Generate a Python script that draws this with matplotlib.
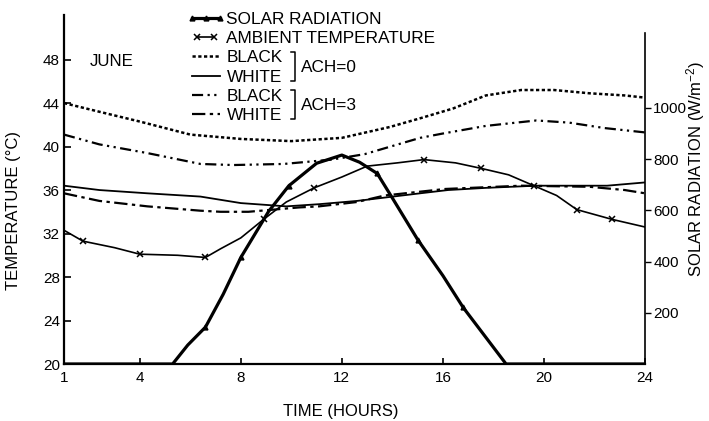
import matplotlib
matplotlib.use('Agg')
import matplotlib.pyplot as plt
from matplotlib.lines import Line2D
from matplotlib.legend_handler import HandlerLine2D

plt.rcParams['font.family'] = ['Liberation Sans', 'DejaVu Sans']
plt.rcParams['mathtext.fontset'] = 'custom'
plt.rcParams['mathtext.rm'] = 'Liberation Sans'
plt.rcParams['mathtext.default'] = 'regular'

# ---- data (June) ----
solar_hours = [1, 5.3, 5.9, 6.6, 7.3, 8.0, 9.1, 9.9, 11.0, 12.0, 12.7, 13.4, 14.0, 15.0, 16.0, 16.8, 17.5, 18.5, 24]
solar_rad = [0, 0, 74, 144, 272, 416, 596, 696, 784, 816, 788, 744, 648, 486, 345, 221, 130, 0, 0]
solar_marks = [3, 5, 7, 11, 13, 15]

amb_hours = [1, 1.75, 3, 4, 5.5, 6.6, 7.2, 8.0, 8.9, 9.8, 10.9, 12.0, 13.0, 14.2, 15.25,
             16.5, 17.5, 18.6, 19.6, 20.5, 21.3, 22.7, 24]
amb_temp = [32.3, 31.3, 30.7, 30.1, 30.0, 29.8, 30.6, 31.6, 33.3, 34.9, 36.2, 37.2, 38.2, 38.5, 38.8,
            38.5, 38.0, 37.4, 36.4, 35.5, 34.2, 33.3, 32.6]
amb_marks = [1, 3, 5, 8, 10, 14, 16, 18, 20, 21]

black0_hours = [1, 2.4, 4, 6, 8, 10, 12, 13.9, 15.1, 16.4, 17.7, 19.1, 20.4, 21.8, 23.2, 24]
black0_temp = [44.0, 43.2, 42.3, 41.1, 40.7, 40.5, 40.8, 41.8, 42.6, 43.5, 44.7, 45.2, 45.2, 44.9, 44.7, 44.5]

white0_hours = [1, 2.4, 4.3, 6.4, 8.0, 9.8, 11.1, 12.6, 15.1, 16.2, 17.7, 19.7, 22.5, 24]
white0_temp = [36.4, 36.0, 35.7, 35.4, 34.8, 34.5, 34.7, 35.0, 35.7, 36.0, 36.2, 36.4, 36.4, 36.7]

black3_hours = [1, 2.4, 4.3, 6.4, 7.7, 9.7, 11.6, 12.9, 15.1, 16.0, 17.7, 19.7, 21.0, 22.4, 24]
black3_temp = [41.1, 40.2, 39.4, 38.4, 38.3, 38.4, 38.8, 39.3, 40.8, 41.2, 41.9, 42.4, 42.2, 41.7, 41.3]

white3_hours = [1, 2.4, 4.3, 6.4, 7.2, 8.3, 10.3, 11.1, 12.6, 13.7, 16.1, 19.1, 21.8, 23.2, 24]
white3_temp = [35.7, 35.0, 34.5, 34.1, 34.0, 34.0, 34.4, 34.5, 34.9, 35.5, 36.1, 36.4, 36.3, 36.0, 35.7]

hour_ticks = [1, 4, 8, 12, 16, 20, 24]
temp_ticks = [20, 24, 28, 32, 36, 40, 44, 48]
rad_ticks = [200, 400, 600, 800, 1000]

W, H = 709, 421
fig = plt.figure(figsize=(W / 100, H / 100), dpi=100)
ax = fig.add_axes([64 / W, 1 - 364 / H, (645 - 64) / W, (364 - 15) / H])
ax2 = ax.twinx()

k = 'black'
l_b0, = ax.plot(black0_hours, black0_temp, color=k, lw=1.8, dashes=(1.3, 1.0))
l_w0, = ax.plot(white0_hours, white0_temp, color=k, lw=1.3)
l_b3, = ax.plot(black3_hours, black3_temp, color=k, lw=1.6, dashes=(5, 2, 1, 2, 1, 2))
l_w3, = ax.plot(white3_hours, white3_temp, color=k, lw=1.6, dashes=(6, 2, 1.5, 2))
l_amb, = ax.plot(amb_hours, amb_temp, color=k, lw=1.2, marker='x', ms=5, mew=1.1,
                 markevery=amb_marks)
l_sol, = ax2.plot(solar_hours, solar_rad, color=k, lw=2.3, marker='^', ms=3.5,
                  markevery=solar_marks)

ax.set_xlim(1, 24)
ax.set_ylim(20, 52.1)
ax2.set_ylim(0, 1363)
ax.set_xticks(hour_ticks)
ax.set_yticks(temp_ticks)
ax2.set_yticks(rad_ticks)

for a in (ax, ax2):
    a.spines['top'].set_visible(False)
ax.spines['right'].set_visible(False)
ax2.spines['left'].set_visible(False)
ax2.spines['bottom'].set_visible(False)
ax2.spines['right'].set_bounds(0, 1293)
ax.spines['left'].set_linewidth(1.6)
ax.spines['bottom'].set_linewidth(1.6)
ax2.spines['right'].set_linewidth(1.2)

ax.tick_params(axis='y', direction='in', length=5, width=1.2, labelsize=11, pad=3)
ax.tick_params(axis='x', direction='in', length=4, width=1.2, labelsize=11, pad=5)
ax2.tick_params(axis='y', direction='out', length=4, width=1.0, labelsize=11, pad=2)

ax.set_xlabel('TIME (HOURS)', fontsize=12)
ax.xaxis.set_label_coords(0.477, -0.115)
ax.set_ylabel('TEMPERATURE (°C)', fontsize=12)
ax.yaxis.set_label_coords(-0.074, 0.44)
ax2.set_ylabel('SOLAR RADIATION (W/m$^{-2}$)', fontsize=12)
ax2.yaxis.set_label_coords(1.068, 0.56)
ax2.yaxis.label.set_rotation(90)

ax.text(2.0, 47.8, 'JUNE', fontsize=12.2, va='center', ha='left')

handles = [l_sol, l_amb, l_b0, l_w0, l_b3, l_w3]
labels = ['SOLAR RADIATION', 'AMBIENT TEMPERATURE', 'BLACK', 'WHITE', 'BLACK', 'WHITE']
leg = ax.legend(handles, labels, loc='upper left', bbox_to_anchor=(192 / W, 1 - 12 / H),
                bbox_transform=fig.transFigure, frameon=False, fontsize=12.4,
                handlelength=1.6, handletextpad=0.4, labelspacing=0.24,
                borderpad=0, borderaxespad=0, numpoints=1,
                handler_map={l_amb: HandlerLine2D(numpoints=2)})
for h in leg.legend_handles:
    h.set_markevery(None)


def bracket(x, y0, y1):
    xs = [x - 4, x, x, x - 4]
    ys = [y0, y0, y1, y1]
    fig.add_artist(Line2D([v / W for v in xs], [1 - v / H for v in ys],
                          transform=fig.transFigure, color=k, lw=1.1))


bracket(295, 52, 81)
bracket(295, 90, 119)
fig.text(301 / W, 1 - 67 / H, 'ACH=0', fontsize=12.4, va='center', ha='left')
fig.text(301 / W, 1 - 106 / H, 'ACH=3', fontsize=12.4, va='center', ha='left')

fig.savefig('out.png', dpi=100)
